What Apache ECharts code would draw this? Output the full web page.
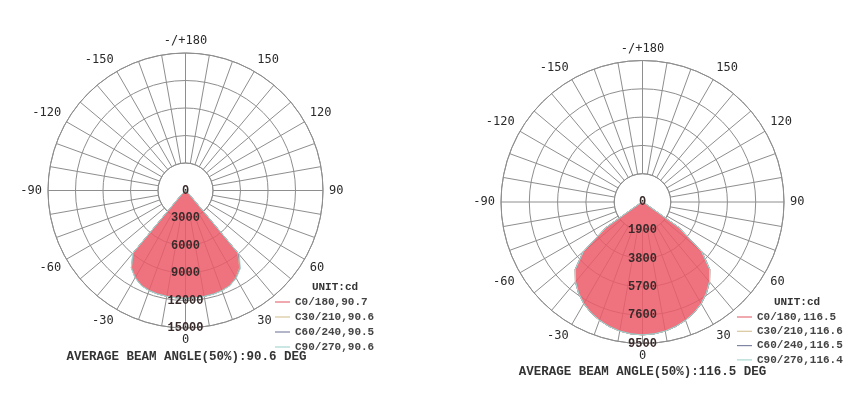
<!DOCTYPE html>
<html><head><meta charset="utf-8">
<script src="https://cdn.jsdelivr.net/npm/echarts@6/dist/echarts.min.js"></script>
<style>html,body{margin:0;padding:0;background:#fff}#c{width:866px;height:407px}</style>
</head><body><div id="c"></div>
<script>
// gamma angles (deg), 0 = straight down
const gammaAngles = [-90,-85,-80,-75,-70,-65,-60,-55,-50,-45,-40,-35,-30,-25,-20,-15,-10,-5,0,5,10,15,20,25,30,35,40,45,50,55,60,65,70,75,80,85,90];

// Left diagram (cd)
const leftNames = ['C0/180,90.7','C30/210,90.6','C60/240,90.5','C90/270,90.6'];
const leftC0  = [0,0,0,0,0,10,20,60,150,500,8800,10250,10950,11400,11600,11680,11720,11750,11760,11750,11720,11680,11600,11400,10950,10250,8800,500,150,60,20,10,0,0,0,0,0];
const leftC30 = [0,0,0,0,0,10,20,60,160,520,8850,10280,10970,11410,11610,11690,11730,11750,11760,11750,11730,11690,11610,11420,10980,10300,8900,540,160,60,20,10,0,0,0,0,0];
const leftC60 = [0,0,0,0,0,10,20,60,160,540,8900,10300,10990,11420,11620,11700,11730,11750,11760,11750,11730,11700,11630,11440,11020,10360,9000,560,170,60,20,10,0,0,0,0,0];
const leftC90 = [0,0,0,0,0,10,20,60,170,560,8950,10320,11000,11430,11630,11700,11730,11750,11760,11750,11740,11710,11640,11460,11060,10420,9150,600,180,60,20,10,0,0,0,0,0];
const leftRadiusTicks = [0,3000,6000,9000,12000,15000];
const leftBeam = 'AVERAGE BEAM ANGLE(50%):90.6 DEG';

// Right diagram (cd)
const rightNames = ['C0/180,116.5','C30/210,116.6','C60/240,116.5','C90/270,116.4'];
const rightC0  = [0,0,0,10,30,80,250,3000,5200,6380,7000,7480,7880,8200,8450,8650,8800,8890,8920,8890,8800,8650,8450,8200,7880,7480,7000,6380,5200,3000,250,80,30,10,0,0,0];
const rightC30 = [0,0,0,10,30,80,260,3050,5230,6400,7010,7490,7890,8210,8455,8655,8800,8890,8920,8890,8805,8655,8455,8210,7890,7490,7010,6400,5230,3050,260,80,30,10,0,0,0];
const rightC60 = [0,0,0,10,30,80,250,3000,5210,6390,7005,7485,7885,8205,8452,8652,8800,8890,8920,8890,8802,8652,8452,8205,7885,7485,7005,6390,5210,3000,250,80,30,10,0,0,0];
const rightC90 = [0,0,0,10,30,80,240,2950,5180,6370,6995,7475,7875,8195,8448,8648,8800,8890,8920,8890,8798,8648,8448,8195,7875,7475,6995,6370,5180,2950,240,80,30,10,0,0,0];
const rightRadiusTicks = [0,1900,3800,5700,7600,9500];
const rightBeam = 'AVERAGE BEAM ANGLE(50%):116.5 DEG';

// Angle tick labels
const angleLabelValues = [-180,-150,-120,-90,-60,-30,0,30,60,90,120,150];
const angleLabelTexts  = ['-/+180','-150','-120','-90','-60','-30','0','30','60','90','120','150'];

const seriesColors = ['#e8707c','#d9c69c','#7f86a3','#a9d8d0'];
const gridColor = '#8e8e8e';
const mono = 'Liberation Mono';

const polar = [], angleAxis = [], radiusAxis = [], series = [], legend = [], graphic = [];

function addDiagram(cx, cy, R, ticks, names, arrays, legendPos, unitPos, beamText, beamPos, legendGap) {
  const step = ticks[1] - ticks[0];
  const gi = polar.length;
  // grid polar (with central hole)
  polar.push({center:[cx, cy], radius:[R / (ticks.length - 1), R]});
  angleAxis.push({
    polarIndex: gi, type:'value', min:-180, max:180, interval:10, startAngle:90, clockwise:false,
    axisLine:{show:true, lineStyle:{color:gridColor, width:1}},
    axisTick:{show:false},
    splitLine:{show:true, lineStyle:{color:gridColor, width:1}},
    axisLabel:{show:true, margin:6, color:'#2a2a2a', fontFamily:'DejaVu Sans Mono', fontSize:12,
      formatter: v => { const k = angleLabelValues.indexOf(v); return k >= 0 ? angleLabelTexts[k] : ''; }}
  });
  radiusAxis.push({
    polarIndex: gi, type:'value', min:step, max:ticks[ticks.length-1], interval:step,
    axisLine:{show:false}, axisTick:{show:false}, axisLabel:{show:false},
    splitLine:{show:true, lineStyle:{color:gridColor, width:1}}
  });
  // data polar
  const di = polar.length;
  polar.push({center:[cx, cy], radius:[0, R]});
  angleAxis.push({
    polarIndex: di, type:'value', min:0, max:360, startAngle:270, clockwise:false,
    axisLine:{show:false}, axisTick:{show:false}, axisLabel:{show:false}, splitLine:{show:false}
  });
  radiusAxis.push({
    polarIndex: di, type:'value', min:ticks[0], max:ticks[ticks.length-1], interval:step, z:10,
    axisLine:{show:false}, axisTick:{show:false}, splitLine:{show:false},
    axisLabel:{show:true, margin:0, align:'center', verticalAlign:'middle', padding:[0,0,7,0],
      fontFamily:mono, fontSize:12, fontWeight:'bold', color:'#3a2b2b',
      formatter: v => String(v)}
  });
  arrays.forEach((arr, k) => {
    series.push({
      type:'line', name:names[k], coordinateSystem:'polar', polarIndex:di,
      data: arr.map((v, i) => [v, (gammaAngles[i] + 360) % 360]),
      symbol:'none', showSymbol:false, silent:true, animation:false,
      color: seriesColors[k],
      lineStyle:{color:seriesColors[k], width:1},
      areaStyle: k === 0 ? {color:'#ec5a68', opacity:0.85} : undefined
    });
  });
  legend.push({
    data:names.map(n => ({name:n, icon:'rect'})), orient:'vertical', left:legendPos[0], top:legendPos[1], padding:0,
    itemWidth:15, itemHeight:1.2, itemGap:legendGap, selectedMode:false,
    itemStyle:{borderWidth:0},
    textStyle:{fontFamily:mono, fontSize:11, fontWeight:'bold', color:'#444', lineHeight:13}
  });
  graphic.push({type:'text', x:unitPos[0], y:unitPos[1], silent:true,
    style:{text:'UNIT:cd', font:'bold 11px "Liberation Mono"', fill:'#333', align:'center', verticalAlign:'middle'}});
  graphic.push({type:'text', x:beamPos[0], y:beamPos[1], silent:true,
    style:{text:beamText, font:'bold 12.5px "Liberation Mono"', fill:'#333', align:'center', verticalAlign:'middle'}});
}

addDiagram(185.5, 190.5, 137.5, leftRadiusTicks, leftNames, [leftC0,leftC30,leftC60,leftC90],
  [275, 295.5], [335, 287], leftBeam, [186.5, 357], 2);
addDiagram(642.5, 202, 141.5, rightRadiusTicks, rightNames, [rightC0,rightC30,rightC60,rightC90],
  [737, 310.5], [797, 302], rightBeam, [642.5, 372], 1.3);

const chart = echarts.init(document.getElementById('c'), null, {renderer:'canvas'});
chart.setOption({
  backgroundColor:'#ffffff', animation:false,
  polar, angleAxis, radiusAxis, series, legend, graphic
});
</script></body></html>
